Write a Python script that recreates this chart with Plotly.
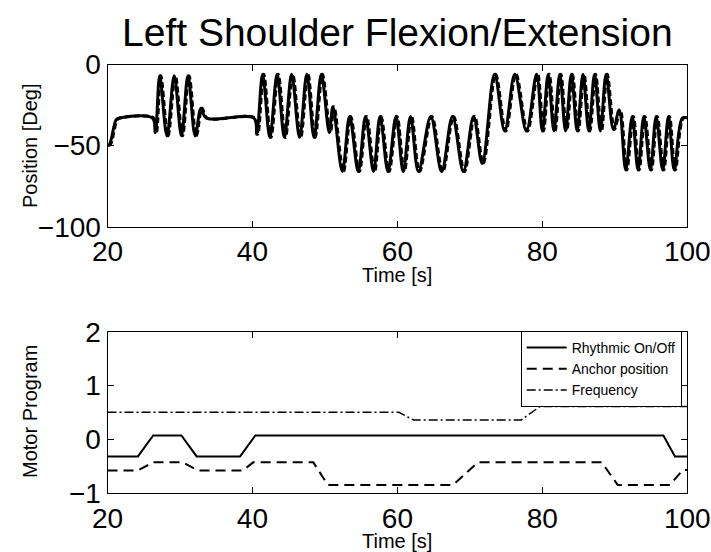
import plotly.graph_objects as go

# ---------------- data ----------------
# Top panel: commanded joint position, turning points of the trace [s], [deg]
pos_time = [20.0, 20.3, 21.2, 21.6, 26.2, 26.6, 27.2, 28.2, 29.2, 30.2, 31.1, 32.1, 32.9, 33.6,
            40.2, 40.6, 41.4, 42.4, 43.4, 44.4, 45.4, 46.5, 47.5, 48.5, 49.5, 50.6, 51.1,
            52.4, 53.4, 54.6, 55.6, 56.7, 57.6, 58.7, 59.8, 60.8, 61.8, 62.9, 64.6, 66.1,
            67.6, 69.1, 70.5, 71.7, 73.4, 74.8, 76.2, 77.8, 79.2, 80.0, 80.8, 81.6, 82.4,
            83.2, 84.0, 84.8, 85.6, 86.4, 87.2, 88.0, 88.8, 89.8, 90.6, 91.5, 92.4, 93.2,
            94.0, 94.9, 95.7, 96.6, 97.4, 98.2, 99.3, 100.0]
pos_deg = [-50, -49, -34, -33, -33, -42, -7, -44, -7, -44, -7, -44, -27, -33,
           -33, -43, -6, -45, -6, -45, -6, -45, -6, -45, -6, -42, -26,
           -66, -32, -66, -32, -66, -32, -66, -32, -66, -32, -66, -32, -66,
           -32, -66, -32, -61, -6, -41, -6, -41, -6, -41, -6, -41, -6,
           -41, -6, -41, -6, -41, -6, -41, -6, -40, -28, -65, -32, -65,
           -32, -65, -32, -65, -32, -65, -33, -33]
measured_lag = 0.15  # measured trace trails the command slightly [s]

# Bottom panel: motor program signals
rhythm_t = [20, 24.2, 26.3, 30.2, 32.3, 38.3, 40.4, 96.7, 98.3, 100]
rhythm_v = [-0.32, -0.32, 0.07, 0.07, -0.32, -0.32, 0.07, 0.07, -0.32, -0.32]

anchor_t = [20, 24.2, 26.3, 30.4, 32.5, 38.7, 40.1, 48.4, 50.4, 67.7, 71.1, 88.2, 90.4, 97.6, 99.4, 100]
anchor_v = [-0.58, -0.58, -0.43, -0.43, -0.58, -0.58, -0.43, -0.43, -0.85, -0.85,
            -0.43, -0.43, -0.85, -0.85, -0.57, -0.57]

freq_t = [20, 60.2, 62.2, 77.1, 79.7, 100]
freq_v = [0.5, 0.5, 0.36, 0.36, 0.61, 0.61]

x_ticks = [20, 40, 60, 80, 100]
top_y_ticks = [-100, -50, 0]
bot_y_ticks = [-1, 0, 1, 2]

# ---------------- figure ----------------
FONT = "Liberation Sans, Arial, Helvetica, sans-serif"
W, H = 711, 552


def fx(px):
    return px / W


def fy(py):
    return 1 - py / H


fig = go.Figure()

fig.add_trace(go.Scatter(x=pos_time, y=pos_deg, mode="lines", xaxis="x", yaxis="y",
                         line=dict(color="black", width=3, shape="spline", smoothing=1.0),
                         showlegend=False, hoverinfo="skip"))
fig.add_trace(go.Scatter(x=[t + measured_lag for t in pos_time], y=pos_deg, mode="lines",
                         xaxis="x", yaxis="y",
                         line=dict(color="black", width=3, dash="6px,3px", shape="spline", smoothing=1.0),
                         showlegend=False, hoverinfo="skip"))

fig.add_trace(go.Scatter(x=rhythm_t, y=rhythm_v, mode="lines", name="Rhythmic On/Off",
                         xaxis="x2", yaxis="y2", line=dict(color="black", width=2)))
fig.add_trace(go.Scatter(x=anchor_t, y=anchor_v, mode="lines", name="Anchor position",
                         xaxis="x2", yaxis="y2", line=dict(color="black", width=2, dash="10px,6px")))
fig.add_trace(go.Scatter(x=freq_t, y=freq_v, mode="lines", name="Frequency",
                         xaxis="x2", yaxis="y2", line=dict(color="black", width=1.5, dash="9px,3px,2px,3px")))

xdom = [fx(107.5), fx(687.3)]
top_dom = [fy(226.7), fy(64.5)]
bot_dom = [fy(493.0), fy(331.7)]

axis_common = dict(showline=True, linecolor="black", linewidth=1, mirror="ticks",
                   ticks="inside", ticklen=6, tickcolor="black", showgrid=False, zeroline=False,
                   automargin=False,
                   tickfont=dict(family=FONT, size=28, color="black"))

fig.update_layout(
    width=W, height=H, margin=dict(l=0, r=0, t=0, b=0, pad=0, autoexpand=False),
    paper_bgcolor="white", plot_bgcolor="white",
    font=dict(family=FONT, color="black"),
    xaxis=dict(domain=xdom, anchor="y", range=[20, 100], tickvals=x_ticks, **axis_common),
    yaxis=dict(domain=top_dom, anchor="x", range=[-100, 0], tickvals=top_y_ticks, **axis_common),
    xaxis2=dict(domain=xdom, anchor="y2", range=[20, 100], tickvals=x_ticks, **axis_common),
    yaxis2=dict(domain=bot_dom, anchor="x2", range=[-1, 2], tickvals=bot_y_ticks, **axis_common),
    legend=dict(x=fx(681.7), y=fy(331), xanchor="right", yanchor="top",
                bgcolor="white", bordercolor="black", borderwidth=1, itemwidth=40,
                font=dict(family=FONT, size=14, color="black"), tracegroupgap=0),
    showlegend=True,
)

xc = (xdom[0] + xdom[1]) / 2
ann = [
    dict(text="Left Shoulder Flexion/Extension", x=xc, y=fy(32), size=39, angle=0),
    dict(text="Time [s]", x=xc, y=fy(275), size=20, angle=0),
    dict(text="Time [s]", x=xc, y=fy(541), size=20, angle=0),
    dict(text="Position [Deg]", x=fx(30), y=fy(146), size=20, angle=-90),
    dict(text="Motor Program", x=fx(30), y=fy(412), size=20, angle=-90),
]
for a in ann:
    fig.add_annotation(xref="paper", yref="paper", showarrow=False, xanchor="center",
                       yanchor="middle", text=a["text"], x=a["x"], y=a["y"],
                       textangle=a["angle"],
                       font=dict(family=FONT, color="black", size=a["size"]))

# remove the page's default 8 px body margin so the figure fills the window exactly
fig.write_html("out.html", config={"displayModeBar": False},
               post_script="document.body.style.margin='0';document.body.style.overflow='hidden';")
